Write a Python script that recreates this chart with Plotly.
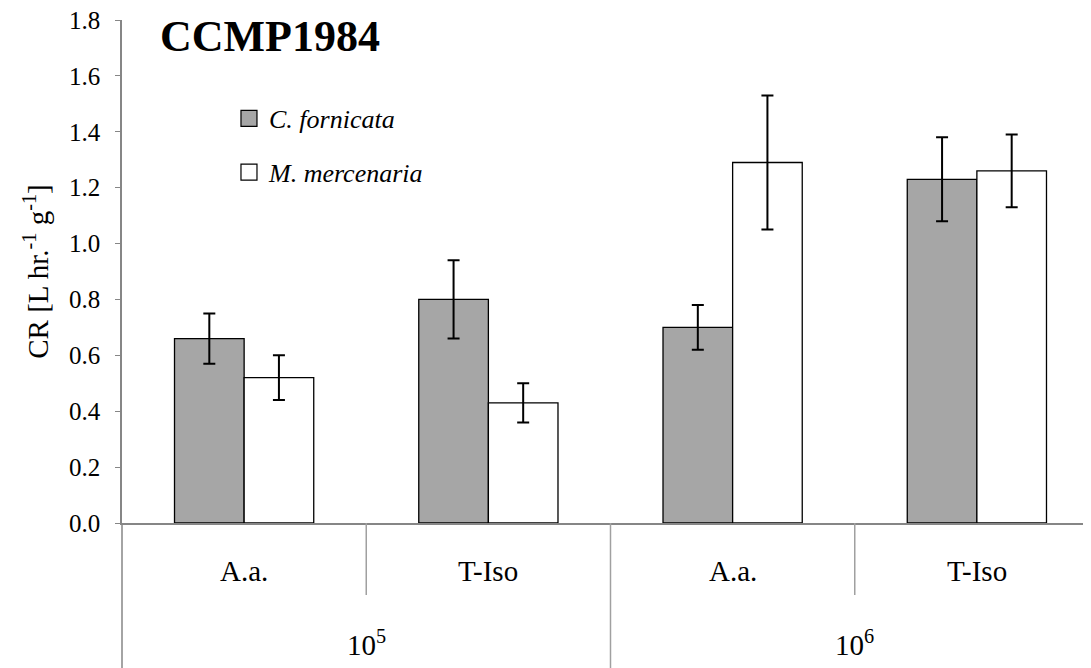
import plotly.graph_objects as go

inner_labels = ["A.a.", "T-Iso", "A.a.", "T-Iso"]
outer_labels = ["10<sup>5</sup>", "10<sup>6</sup>"]
keys = ["g1", "g2", "g3", "g4"]

cf_vals = [0.66, 0.80, 0.70, 1.23]
cf_err = [0.09, 0.14, 0.08, 0.15]
mm_vals = [0.52, 0.43, 1.29, 1.26]
mm_err = [0.08, 0.07, 0.24, 0.13]

yticks = [0.0, 0.2, 0.4, 0.6, 0.8, 1.0, 1.2, 1.4, 1.6, 1.8]

FONT = "Liberation Serif, serif"
AXIS = "#868686"
GRAY = "#A6A6A6"

fig = go.Figure()
fig.add_trace(go.Bar(
    x=keys, y=cf_vals, name="C. fornicata", showlegend=False,
    marker=dict(color=GRAY, line=dict(color="black", width=1.3)),
    error_y=dict(type="data", array=cf_err, color="black", thickness=2, width=6),
))
fig.add_trace(go.Bar(
    x=keys, y=mm_vals, name="M. mercenaria", showlegend=False,
    marker=dict(color="white", line=dict(color="black", width=1.3)),
    error_y=dict(type="data", array=mm_err, color="black", thickness=2, width=6),
))
# legend entries
for nm, col, grp in [("<i>C. fornicata</i>", GRAY, "a"), ("<i>M. mercenaria</i>", "white", "b")]:
    fig.add_trace(go.Scatter(
        x=[None], y=[None], mode="markers", name=nm, legendgroup=grp,
        marker=dict(symbol="square", size=16, color=col, line=dict(color="black", width=1.2)),
    ))

# category label annotations
for k, lab in zip(keys, inner_labels):
    fig.add_annotation(x=k, y=0, yref="y", xref="x", text=lab, showarrow=False,
                       yanchor="middle", yshift=-48,
                       font=dict(family=FONT, size=29, color="black"))
for i, lab in enumerate(outer_labels):
    fig.add_annotation(x=2 * i + 0.5, y=0, yref="y", xref="x", text=lab, showarrow=False,
                       yanchor="middle", yshift=-120,
                       font=dict(family=FONT, size=29, color="black"))

# divider lines below axis
fig.add_shape(type="line", xref="paper", yref="paper", x0=0, x1=0, y0=0, y1=-0.4,
              line=dict(color=AXIS, width=1.5))
for i, xb in enumerate([0.5, 1.5, 2.5]):
    long = (i == 1)
    fig.add_shape(type="line", xref="x", yref="paper", x0=xb, x1=xb, y0=0,
                  y1=-0.4 if long else -0.143,
                  line=dict(color="#A0A0A0", width=1.5))

fig.add_annotation(x=0.0368, y=0.968, xref="paper", yref="paper", xanchor="left", yanchor="middle",
                   text="<b>CCMP1984</b>", showarrow=False,
                   font=dict(family=FONT, size=44, color="black"))

fig.update_layout(
    width=1091, height=668,
    margin=dict(l=114, r=0, t=12, b=153),
    paper_bgcolor="white", plot_bgcolor="white",
    barmode="group", bargap=0.43, bargroupgap=0,
    showlegend=True,
    legend=dict(x=0.1095, y=0.851, xanchor="left", yanchor="top",
                font=dict(family=FONT, size=26, color="black"),
                traceorder="grouped", tracegroupgap=17,
                itemwidth=30, bgcolor="rgba(0,0,0,0)"),
    xaxis=dict(range=[-0.5, 3.5], showticklabels=False, showline=True,
               linecolor=AXIS, linewidth=1.5, ticks="", showgrid=False, zeroline=False),
    yaxis=dict(range=[0, 1.8], tickvals=yticks, ticktext=[f"{v:.1f}" for v in yticks],
               showline=True, linecolor=AXIS, linewidth=1.5, ticks="outside", ticklen=5,
               tickcolor=AXIS, showgrid=False, zeroline=False, ticklabelstandoff=10,
               ticklabeloverflow="allow",
               tickfont=dict(family=FONT, size=25, color="black"),
               title=dict(text="CR [L hr.<sup>-1</sup> g<sup>-1</sup>]", standoff=12,
                          font=dict(family=FONT, size=29, color="black"))),
)

fig.write_html("out.html")
